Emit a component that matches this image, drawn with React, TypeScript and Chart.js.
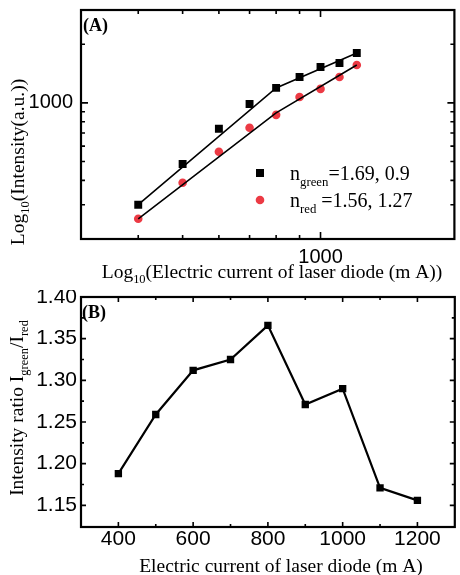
import React, { useEffect, useRef } from 'react';
import { Chart, registerables } from 'chart.js';

Chart.register(...registerables);

// ---------- data ----------
const currents = [400, 500, 600, 700, 800, 900, 1000, 1100, 1200];
const greenIntensity = [300, 486, 736, 988, 1194, 1359, 1530, 1604, 1803];
const redIntensity = [254, 389, 561, 745, 868, 1073, 1180, 1359, 1566];
const fitCurrents = [400, 800, 1200];
const greenFit = [300, 1194, 1803];
const redFit = [254, 889, 1566];
const intensityRatio = [1.188, 1.259, 1.312, 1.325, 1.366, 1.271, 1.29, 1.171, 1.156];

const logXTicks = [400, 500, 600, 700, 800, 900, 1000];
const logYTicks = [300, 400, 500, 600, 700, 800, 900, 1000, 2000];
const logLabelTicks = [1000];
const ratioXTicks = [400, 500, 600, 700, 800, 900, 1000, 1100, 1200];
const ratioXLabels = [400, 600, 800, 1000, 1200];
const ratioYTicks = [1.15, 1.175, 1.2, 1.225, 1.25, 1.275, 1.3, 1.325, 1.35, 1.375, 1.4];
const ratioYLabels = [1.15, 1.2, 1.25, 1.3, 1.35, 1.4];

const legendA = [
  { sub: 'green', text: '=1.69, 0.9' },
  { sub: 'red', text: ' =1.56, 1.27' },
];

const RED = 'rgb(236,58,68)';
const SANS = 'Liberation Sans, Arial, sans-serif';
const SERIF = 'Liberation Serif, Times New Roman, serif';

type Part = { t: string; sub?: boolean };

function drawRich(
  ctx: CanvasRenderingContext2D,
  parts: Part[],
  x: number,
  y: number,
  size: number,
  align: 'left' | 'center'
) {
  const subSize = size * 0.64;
  const subDy = size * 0.28;
  const fontOf = (p: Part) => `${p.sub ? subSize : size}px ${SERIF}`;
  let total = 0;
  for (const p of parts) {
    ctx.font = fontOf(p);
    total += ctx.measureText(p.t).width;
  }
  let cx = align === 'center' ? x - total / 2 : x;
  ctx.textAlign = 'left';
  ctx.textBaseline = 'alphabetic';
  ctx.fillStyle = '#000';
  for (const p of parts) {
    ctx.font = fontOf(p);
    ctx.fillText(p.t, cx, y + (p.sub ? subDy : 0));
    cx += ctx.measureText(p.t).width;
  }
}

function isIn(list: number[], v: number) {
  return list.some((a) => Math.abs(a - v) < 1e-6);
}

function framePlugin(opts: {
  majorX: number[];
  majorY: number[];
  minorLen: number;
  majorLen: number;
  text: (ctx: CanvasRenderingContext2D, chart: any) => void;
}) {
  return {
    id: 'frameTicks',
    afterDraw(chart: any) {
      const ctx: CanvasRenderingContext2D = chart.ctx;
      const { left, right, top, bottom } = chart.chartArea;
      const xs = chart.scales.x;
      const ys = chart.scales.y;
      ctx.save();
      ctx.strokeStyle = '#000';
      ctx.lineWidth = 1.6;
      ctx.beginPath();
      for (const t of xs.ticks) {
        const px = xs.getPixelForValue(t.value);
        const len = isIn(opts.majorX, t.value) ? opts.majorLen : opts.minorLen;
        ctx.moveTo(px, bottom);
        ctx.lineTo(px, bottom - len);
        ctx.moveTo(px, top);
        ctx.lineTo(px, top + len);
      }
      for (const t of ys.ticks) {
        const py = ys.getPixelForValue(t.value);
        const len = isIn(opts.majorY, t.value) ? opts.majorLen : opts.minorLen;
        ctx.moveTo(left, py);
        ctx.lineTo(left + len, py);
        ctx.moveTo(right, py);
        ctx.lineTo(right - len, py);
      }
      ctx.stroke();
      ctx.lineWidth = 2.2;
      ctx.strokeRect(left, top, right - left, bottom - top);
      opts.text(ctx, chart);
      ctx.restore();
    },
  };
}

const noGrid = { display: false, drawTicks: false, tickLength: 0 };

export default function App() {
  const refA = useRef<HTMLCanvasElement | null>(null);
  const refB = useRef<HTMLCanvasElement | null>(null);

  useEffect(() => {
    const tickFont = { family: SANS, size: 20 };

    const chartA = new Chart(refA.current!, {
      type: 'scatter',
      data: {
        datasets: [
          {
            data: fitCurrents.map((x, i) => ({ x, y: greenFit[i] })),
            showLine: true,
            borderColor: '#000',
            borderWidth: 1.6,
            pointRadius: 0,
          },
          {
            data: fitCurrents.map((x, i) => ({ x, y: redFit[i] })),
            showLine: true,
            borderColor: '#000',
            borderWidth: 1.6,
            pointRadius: 0,
          },
          {
            data: currents.map((x, i) => ({ x, y: greenIntensity[i] })),
            pointStyle: 'rect',
            pointRadius: 5.6,
            backgroundColor: '#000',
            borderColor: '#000',
            borderWidth: 0,
          },
          {
            data: currents.map((x, i) => ({ x, y: redIntensity[i] })),
            pointStyle: 'circle',
            pointRadius: 4.3,
            backgroundColor: RED,
            borderColor: RED,
            borderWidth: 0,
          },
        ],
      } as any,
      options: {
        responsive: false,
        animation: false,
        layout: { padding: { top: 10, right: 3, left: 0, bottom: 0 } },
        plugins: { legend: { display: false }, tooltip: { enabled: false } },
        scales: {
          x: {
            type: 'logarithmic',
            min: 300,
            max: 1960,
            grid: noGrid,
            border: { display: false },
            afterBuildTicks: (s: any) => {
              s.ticks = logXTicks.map((v) => ({ value: v }));
            },
            afterFit: (s: any) => {
              s.height = 51;
              s.paddingLeft = 0;
              s.paddingRight = 0;
            },
            ticks: {
              autoSkip: false,
              maxRotation: 0,
              padding: 6,
              color: '#000',
              font: tickFont,
              callback: (v: any) => (isIn(logLabelTicks, Number(v)) ? String(v) : ''),
            },
          },
          y: {
            type: 'logarithmic',
            min: 200,
            max: 3000,
            grid: noGrid,
            border: { display: false },
            afterBuildTicks: (s: any) => {
              s.ticks = logYTicks.map((v) => ({ value: v }));
            },
            afterFit: (s: any) => {
              s.width = 81;
              s.paddingTop = 0;
              s.paddingBottom = 0;
            },
            ticks: {
              autoSkip: false,
              padding: 8,
              color: '#000',
              font: tickFont,
              callback: (v: any) => (isIn(logLabelTicks, Number(v)) ? String(v) : ''),
            },
          },
        },
      } as any,
      plugins: [
        framePlugin({
          majorX: logLabelTicks,
          majorY: logLabelTicks,
          minorLen: 4,
          majorLen: 7,
          text: (ctx) => {
            ctx.font = `bold 18px ${SERIF}`;
            ctx.fillStyle = '#000';
            ctx.textAlign = 'left';
            ctx.textBaseline = 'alphabetic';
            ctx.fillText('(A)', 83, 31);
            drawRich(
              ctx,
              [{ t: 'Log' }, { t: '10', sub: true }, { t: '(Electric current of laser diode (m A))' }],
              272,
              278,
              19.5,
              'center'
            );
            ctx.save();
            ctx.translate(23.5, 162);
            ctx.rotate(-Math.PI / 2);
            drawRich(ctx, [{ t: 'Log' }, { t: '10', sub: true }, { t: '(Intensity(a.u.))' }], 0, 0, 19.5, 'center');
            ctx.restore();
            // legend
            ctx.fillStyle = '#000';
            ctx.fillRect(256, 169, 8, 8);
            ctx.fillStyle = RED;
            ctx.beginPath();
            ctx.arc(260, 200, 4.3, 0, Math.PI * 2);
            ctx.fill();
            legendA.forEach((e, i) => {
              drawRich(ctx, [{ t: 'n' }, { t: e.sub, sub: true }, { t: e.text }], 290, 180 + i * 27, 20, 'left');
            });
          },
        }),
      ],
    });

    const chartB = new Chart(refB.current!, {
      type: 'scatter',
      data: {
        datasets: [
          {
            data: currents.map((x, i) => ({ x, y: intensityRatio[i] })),
            showLine: true,
            borderColor: '#000',
            borderWidth: 2.2,
            pointStyle: 'rect',
            pointRadius: 5.2,
            backgroundColor: '#000',
            pointBorderWidth: 0,
          },
        ],
      } as any,
      options: {
        responsive: false,
        animation: false,
        layout: { padding: { top: 7, right: 2, left: 0, bottom: 0 } },
        plugins: { legend: { display: false }, tooltip: { enabled: false } },
        scales: {
          x: {
            type: 'linear',
            min: 300,
            max: 1300,
            grid: noGrid,
            border: { display: false },
            afterBuildTicks: (s: any) => {
              s.ticks = ratioXTicks.map((v) => ({ value: v }));
            },
            afterFit: (s: any) => {
              s.height = 48;
              s.paddingLeft = 0;
              s.paddingRight = 0;
            },
            ticks: {
              autoSkip: false,
              maxRotation: 0,
              padding: 0,
              color: '#000',
              font: { family: SANS, size: 21 },
              callback: (v: any) => (isIn(ratioXLabels, Number(v)) ? String(v) : ''),
            },
          },
          y: {
            type: 'linear',
            min: 1.124,
            max: 1.4,
            grid: noGrid,
            border: { display: false },
            afterBuildTicks: (s: any) => {
              s.ticks = ratioYTicks.map((v) => ({ value: v }));
            },
            afterFit: (s: any) => {
              s.width = 81;
              s.paddingTop = 0;
              s.paddingBottom = 0;
            },
            ticks: {
              autoSkip: false,
              padding: 4,
              color: '#000',
              font: { family: SANS, size: 21 },
              callback: (v: any) => (isIn(ratioYLabels, Number(v)) ? Number(v).toFixed(2) : ''),
            },
          },
        },
      } as any,
      plugins: [
        framePlugin({
          majorX: ratioXLabels,
          majorY: ratioYLabels,
          minorLen: 3,
          majorLen: 5,
          text: (ctx) => {
            ctx.font = `bold 18px ${SERIF}`;
            ctx.fillStyle = '#000';
            ctx.textAlign = 'left';
            ctx.textBaseline = 'alphabetic';
            ctx.fillText('(B)', 82, 28);
            drawRich(ctx, [{ t: 'Electric current of laser diode (m A)' }], 281, 282, 19.5, 'center');
            ctx.save();
            ctx.translate(23, 118);
            ctx.rotate(-Math.PI / 2);
            drawRich(
              ctx,
              [{ t: 'Intensity ratio I' }, { t: 'green', sub: true }, { t: '/I' }, { t: 'red', sub: true }],
              0,
              0,
              19.5,
              'center'
            );
            ctx.restore();
          },
        }),
      ],
    });

    return () => {
      chartA.destroy();
      chartB.destroy();
    };
  }, []);

  return (
    <div style={{ position: 'absolute', left: 0, top: 0, width: 460, height: 575, background: '#fff' }}>
      <canvas ref={refA} width={460} height={290} style={{ position: 'absolute', left: 0, top: 0, width: 460, height: 290 }} />
      <canvas ref={refB} width={460} height={285} style={{ position: 'absolute', left: 0, top: 290, width: 460, height: 285 }} />
    </div>
  );
}
